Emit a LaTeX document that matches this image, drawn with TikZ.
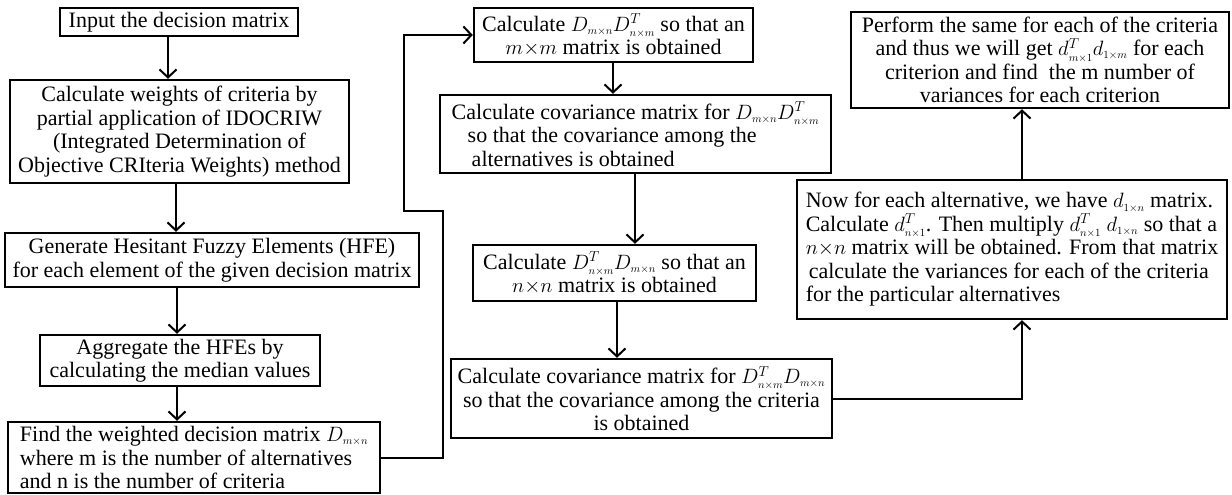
\documentclass[tikz,border=0pt]{standalone}
\usepackage{fontspec}
\setmainfont{Liberation Serif}
\usetikzlibrary{arrows.meta,calc}
\newcommand\subsz[1]{_{\scriptscriptstyle #1}}
\newcommand\by{{\times}}
\begin{document}
\begin{tikzpicture}[x=1pt,y=-1pt,
  box/.style={draw,line width=2.4pt,inner sep=1pt,font=\fontsize{22}{23.5}\selectfont,anchor=center},
  arr/.style={line width=2pt,-{Straight Barb[length=8pt,width=17pt,line width=2pt]}},
  wire/.style={line width=2pt}]
\useasboundingbox (0,0) rectangle (1232,495);
\node[box,minimum width=238pt,minimum height=28pt,align=center] (b1) at (179,22) {Input the decision matrix};
\node[box,minimum width=339pt,minimum height=103pt,align=center] (b2) at (179.5,131.5) {Calculate weights of criteria by\\ partial application of IDOCRIW\\ (Integrated Determination of\\ Objective CRIteria Weights) method};
\node[box,minimum width=414pt,minimum height=54pt,align=center] (b3) at (212,260) {Generate Hesitant Fuzzy Elements (HFE)\\ for each element of the given decision matrix};
\node[box,minimum width=280pt,minimum height=51pt,align=center] (b4) at (180,360.5) {Aggregate the HFEs by\\ calculating the median values};
\node[box,minimum width=372pt,minimum height=71pt,align=left] (b5) at (194,457.5) {Find the weighted decision matrix $D\subsz{m\by n}$\\ where m is the number of alternatives\\ and n is the number of criteria};
\node[box,minimum width=279pt,minimum height=54pt,align=center] (b6) at (613.5,35) {Calculate $D\subsz{m\by n}D^T\subsz{n\by m}$ so that an\\ $m\by m$ matrix is obtained};
\node[box,minimum width=391pt,minimum height=78pt,align=left] (b7) at (635.5,134) {Calculate covariance matrix for $D\subsz{m\by n}D^T\subsz{n\by m}$\\ \hspace*{16pt}so that the covariance among the\\ \hspace*{20pt}alternatives is obtained};
\node[box,minimum width=283pt,minimum height=56pt,align=center] (b8) at (614.5,273) {Calculate $D^T\subsz{n\by m}D\subsz{m\by n}$ so that an\\ $n\by n$ matrix is obtained};
\node[box,minimum width=381pt,minimum height=79pt,align=center] (b9) at (641.5,398.5) {Calculate covariance matrix for $D^T\subsz{n\by m}D\subsz{m\by n}$\\ so that the covariance among the criteria\\ is obtained};
\node[box,minimum width=430pt,minimum height=139pt,align=left] (b10) at (1012,249.5) {Now for each alternative, we have $d\subsz{1\by n}$ matrix.\\ Calculate $d^T\subsz{n\by 1}$. Then multiply $d^T\subsz{n\by 1}$ $d\subsz{1\by n}$ so that a\\ $n\by n$ matrix will be obtained. From that matrix\\ \hspace*{3pt}calculate the variances for each of the criteria\\ for the particular alternatives};
\node[box,minimum width=378pt,minimum height=96pt,align=center] (b11) at (1040,60) {Perform the same for each of the criteria\\ and thus we will get $d^T\subsz{m\by 1}d\subsz{1\by m}$ for each\\ criterion and find \ the m number of\\ variances for each criterion};
% column x positions
\coordinate (c1) at (168,0);
\coordinate (c2) at (176,0);
\coordinate (c3) at (177,0);
\coordinate (c6) at (613,0);
\coordinate (c7) at (635,0);
\coordinate (c8) at (617,0);
\coordinate (c10) at (1022,0);
\coordinate (j1) at (443,211);
\coordinate (j2) at (404,35);
\draw[arr] (b1.south -| c1) -- (b2.north -| c1);
\draw[arr] (b2.south -| c2) -- (b3.north -| c2);
\draw[arr] (b3.south -| c3) -- (b4.north -| c3);
\draw[arr] (b4.south -| c3) -- (b5.north -| c3);
\draw[arr] (b5.east) -| (j1) -- (j2 |- j1) -- (j2) -- (b6.west);
\draw[arr] (b6.south -| c6) -- (b7.north -| c6);
\draw[arr] (b7.south -| c7) -- (b8.north -| c7);
\draw[arr] (b8.south -| c8) -- (b9.north -| c8);
\draw[arr] (b9.east) -| (b10.south -| c10);
\draw[arr] (b10.north -| c10) -- (b11.south -| c10);
\end{tikzpicture}
\end{document}
